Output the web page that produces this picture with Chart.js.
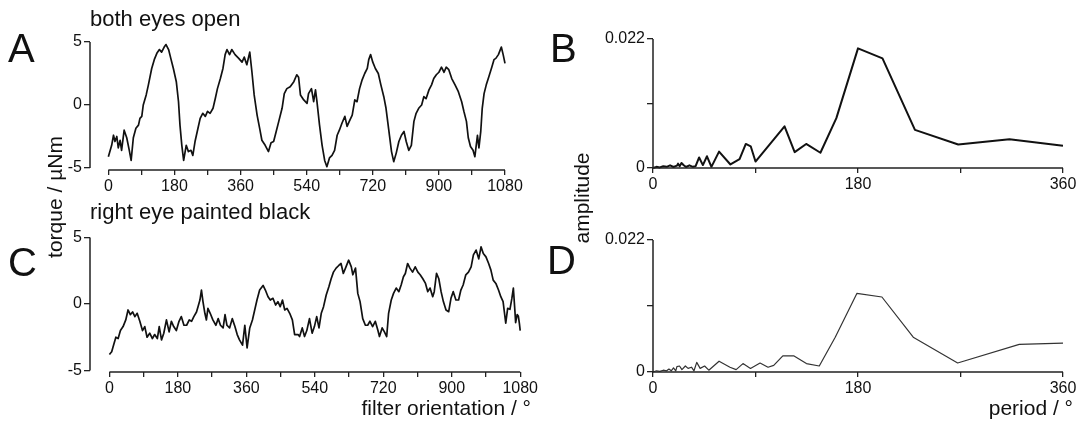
<!DOCTYPE html>
<html>
<head>
<meta charset="utf-8">
<script src="https://cdn.jsdelivr.net/npm/chart.js@4.4.1/dist/chart.umd.min.js"></script>
<style>
  body { margin: 0; background: #fff; width: 1081px; height: 424px; overflow: hidden; position: relative;
         font-family: "Liberation Sans", Arial, sans-serif; color: #111; }
  canvas { position: absolute; }
  .txt { position: absolute; white-space: nowrap; line-height: 1; }
  .big { font-size: 40px; }
  .lab { font-size: 21px; }
  .ttl { font-size: 22px; }
  .rot { transform: translate(-50%, -50%) rotate(-90deg); }
</style>
</head>
<body>
<canvas id="chartA" width="540" height="212" style="left:0;top:0"></canvas>
<canvas id="chartB" width="541" height="212" style="left:540px;top:0"></canvas>
<canvas id="chartC" width="540" height="212" style="left:0;top:212px"></canvas>
<canvas id="chartD" width="541" height="212" style="left:540px;top:212px"></canvas>

<div class="txt big" style="left:8px;top:28px">A</div>
<div class="txt big" style="left:550px;top:28px">B</div>
<div class="txt big" style="left:8px;top:242px">C</div>
<div class="txt big" style="left:547px;top:240px">D</div>
<div class="txt ttl" style="left:90px;top:8px">both eyes open</div>
<div class="txt ttl" style="left:90px;top:201px">right eye painted black</div>
<div class="txt lab rot" style="left:54px;top:197px">torque / µNm</div>
<div class="txt lab rot" style="left:581px;top:198px">amplitude</div>
<div class="txt lab" style="right:550px;top:397px">filter orientation / °</div>
<div class="txt lab" style="right:8px;top:397px">period / °</div>

<script>
// ticks
const torqueTicks = [-5, 0, 5];
const orientTicks = [0, 90, 180, 270, 360, 450, 540, 630, 720, 810, 900, 990, 1080];
const ampTicks = [0, 0.011, 0.022];
const periodTicks = [0, 90, 180, 270, 360];

// A: both eyes open, torque vs filter orientation
const aDeg = [0, 9, 14, 18, 23, 27, 32, 36, 43, 50, 57, 62, 68, 75, 82, 86, 91, 95, 103, 109,
  118, 125, 132, 139, 145, 152, 157, 164, 170, 177, 185, 191, 195, 200, 205, 212, 218, 225, 230, 236,
  244, 250, 257, 264, 270, 277, 285, 291, 297, 305, 312, 318, 323, 330, 336, 345, 355, 364, 370, 377,
  385, 391, 397, 405, 412, 418, 427, 436, 443, 450, 457, 464, 473, 479, 486, 495, 505, 513, 518, 523,
  532, 541, 545, 553, 559, 564, 568, 575, 582, 589, 595, 602, 609, 616, 623, 629, 636, 644, 650, 656,
  664, 671, 677, 684, 691, 698, 705, 709, 714, 720, 727, 735, 742, 750, 756, 764, 771, 777, 784, 791,
  798, 805, 811, 818, 825, 832, 838, 845, 853, 859, 865, 873, 880, 886, 893, 900, 907, 914, 920, 927,
  935, 944, 953, 962, 968, 975, 980, 986, 993, 998, 1005, 1009, 1014, 1018, 1023, 1029, 1036, 1044, 1050, 1055,
  1062, 1066, 1070, 1075, 1080];
const aTorque = [-4.1, -3.2, -2.4, -2.9, -2.5, -3.4, -2.8, -3.6, -2.0, -2.6, -3.6, -4.4, -2.6, -1.85, -1.6, -1.06, -0.9, 0, 0.8, 1.6,
  2.9, 3.6, 4.1, 4.4, 4.2, 4.6, 4.8, 4.4, 3.7, 2.9, 1.85, 0.26, -1.6, -3.2, -4.4, -3.2, -3.7, -3.6, -4.0, -2.9,
  -1.85, -1.06, -0.66, -0.9, -0.5, -0.66, -0.26, 0.5, 1.3, 2.1, 2.9, 4.0, 4.4, 4.0, 4.4, 4.0, 3.7, 3.4, 3.8, 3.2,
  4.2, 2.6, 0.8, -0.8, -1.85, -2.8, -3.2, -3.7, -3.0, -2.9, -2.1, -1.3, -0.26, 0.9, 1.3, 1.45, 1.85, 2.4, 2.2, 0.8,
  0.4, 0.13, 0.9, 1.3, 0.26, 1.2, 0.26, -1.6, -3.2, -4.4, -4.9, -4.2, -4.0, -3.6, -2.4, -2.0, -1.45, -0.9, -1.7, -1.3,
  -0.8, 0.4, 0.26, 1.3, 2.0, 2.5, 2.9, 3.6, 4.0, 3.4, 2.9, 2.5, 1.6, 0.66, -0.26, -2.1, -3.7, -4.5, -3.8, -2.9,
  -2.4, -2.1, -2.9, -3.6, -3.2, -1.3, -0.66, -0.26, 0, 0.66, 0.5, 1.2, 1.6, 2.1, 2.4, 2.6, 3.0, 2.6, 3.0, 2.8,
  2.1, 1.6, 1.06, 0.26, -0.5, -1.3, -2.6, -3.3, -3.6, -4.1, -2.4, -3.4, -2.1, -0.26, 0.9, 1.6, 2.25, 3.0, 3.6, 3.7,
  4.0, 4.3, 4.6, 4.0, 3.3];

// C: right eye painted black
const cDeg = [0, 6, 12, 17, 23, 29, 36, 43, 49, 55, 61, 67, 73, 80, 87, 93, 99, 106, 113, 119,
  126, 131, 137, 143, 150, 157, 163, 169, 176, 183, 189, 196, 203, 210, 216, 222, 229, 233, 238, 242,
  246, 251, 255, 259, 265, 272, 280, 286, 292, 299, 304, 309, 316, 323, 330, 336, 342, 350, 356, 362,
  369, 376, 382, 388, 395, 404, 410, 417, 423, 430, 437, 443, 449, 455, 461, 467, 474, 481, 487, 496,
  500, 507, 513, 519, 526, 533, 539, 545, 551, 557, 563, 570, 577, 583, 589, 596, 603, 609, 615, 622,
  629, 636, 640, 647, 653, 659, 666, 673, 679, 685, 692, 699, 706, 710, 717, 723, 729, 734, 741, 747,
  754, 761, 767, 773, 778, 784, 790, 797, 804, 811, 817, 824, 831, 837, 843, 850, 854, 860, 866, 872,
  878, 885, 892, 898, 904, 911, 918, 924, 930, 937, 944, 951, 957, 964, 971, 977, 983, 990, 997, 1003,
  1009, 1016, 1023, 1029, 1035, 1042, 1047, 1053, 1058, 1062, 1066, 1068, 1072, 1075, 1078, 1080];
const cTorque = [-3.8, -3.6, -3.0, -2.5, -2.6, -2.0, -1.7, -1.2, -0.45, -0.8, -0.6, -0.95, -0.7, -1.3, -2.0, -1.7, -2.5, -2.2, -2.6, -2.3,
  -2.6, -1.7, -2.7, -2.2, -1.2, -2.1, -1.3, -1.7, -2.0, -1.3, -0.95, -1.6, -1.6, -1.2, -1.3, -0.95, -0.6, -0.2, 0.3, 1.05,
  0.18, -0.7, -1.2, -0.33, -0.7, -1.2, -1.6, -1.1, -1.6, -1.8, -0.8, -1.6, -1.8, -1.1, -1.7, -2.3, -2.7, -3.1, -1.6, -3.3,
  -1.8, -1.2, -0.45, 0.3, 1.05, 1.4, 1.05, 0.55, 0.3, 0.43, -0.08, 0.18, -0.2, 0.3, -0.45, -0.33, -0.7, -1.2, -2.3, -2.3,
  -2.45, -1.8, -2.45, -2.0, -1.1, -2.2, -1.7, -0.95, -1.8, -0.7, -0.2, 0.68, 1.3, 1.9, 2.4, 2.7, 2.9, 3.05, 2.3, 2.8,
  3.3, 2.8, 2.2, 2.7, 0.8, 0.18, -1.1, -1.6, -1.6, -1.3, -1.7, -1.3, -2.0, -2.45, -1.8, -2.1, -2.45, -0.7, 0.3, 0.8,
  1.2, 0.93, 1.43, 2.05, 2.3, 3.05, 2.7, 2.4, 2.8, 2.4, 2.2, 1.9, 1.55, 0.93, 1.2, 0.55, 0.93, 2.3, 1.9, 0.93,
  0.18, -0.45, -0.58, 0.43, 0.93, 0.3, 0.3, 1.05, 1.43, 2.2, 2.4, 2.8, 3.7, 4.06, 3.4, 4.3, 3.8, 3.55, 3.05, 2.55,
  1.8, 1.55, 1.05, 0.55, 0.18, -1.45, -0.33, -0.4, 0.4, 1.2, -0.5, -1.4, -0.8, -0.9, -1.5, -2.0];

// B: amplitude spectrum, both eyes open
const bPeriod = [0, 3, 6, 9, 12, 15, 18, 21, 22, 23.4, 25, 27, 29, 32, 35, 37.4, 40.5, 43.8, 47.4, 51.3,
  58, 68, 76, 81.5, 85.8, 90, 115.5, 124.4, 134.5, 147, 161, 180, 201.5, 230, 268, 313, 360];
const bAmp = [0, 0.0002, 0.0001, 0.0003, 0.0002, 0.00046, 0.00017, 0.0004, 0.00074, 0.0003, 0.00086, 0.00046, 0.00017, 0.00046, 0.0002, 0.0003, 0.0018, 0.0005, 0.002, 0.0002,
  0.0028, 0.0006, 0.0015, 0.0041, 0.0037, 0.0011, 0.0071, 0.0027, 0.0041, 0.0026, 0.0085, 0.0204, 0.0187, 0.0065, 0.004, 0.0049, 0.0038];

// D: amplitude spectrum, right eye painted black
const dPeriod = [0, 3, 6, 9, 12, 14, 16, 18, 20, 21, 23.3, 25.4, 28.4, 30.8, 33.8, 36, 38.4, 41.4, 45.3, 49,
  58, 67.6, 73, 79, 85.6, 94, 101, 106, 114, 123.5, 134.7, 146, 160, 179, 201, 228.5, 267.5, 321.6, 360];
const dAmp = [0, 0.0002, 0.0001, 0.0003, 0.0002, 0.0005, 0.0002, 0.0007, 0.0002, 0.0009, 0.001, 0.0004, 0.001, 0.0006, 0.0008, 0.0002, 0.0016, 0.0006, 0.001, 0.0003,
  0.0018, 0.0008, 0.0004, 0.0014, 0.0006, 0.0015, 0.0008, 0.0011, 0.0027, 0.0027, 0.0014, 0.001, 0.0058, 0.0131, 0.0125, 0.0058, 0.0015, 0.0046, 0.0048];

const axisColor = '#222';
const tickFont = { family: '"Liberation Sans", Arial, sans-serif', size: 16 };

// axis lines drawn from first to last tick, like the separated axes of the original
const axisLines = {
  id: 'axisLines',
  afterDraw(chart) {
    const { ctx, chartArea } = chart;
    const x = chart.scales.x, y = chart.scales.y;
    const xt = x.ticks, yt = y.ticks;
    ctx.save();
    ctx.strokeStyle = axisColor;
    ctx.lineWidth = 1.5;
    ctx.beginPath();
    ctx.moveTo(chartArea.left, y.getPixelForValue(yt[0].value));
    ctx.lineTo(chartArea.left, y.getPixelForValue(yt[yt.length - 1].value));
    ctx.moveTo(x.getPixelForValue(xt[0].value), chartArea.bottom);
    ctx.lineTo(x.getPixelForValue(xt[xt.length - 1].value), chartArea.bottom);
    ctx.stroke();
    ctx.restore();
  }
};

function toPoints(xs, ys) {
  return xs.map((v, i) => ({ x: v, y: ys[i] }));
}

function makePanel(id, p) {
  return new Chart(document.getElementById(id), {
    type: 'line',
    data: {
      datasets: [{
        data: toPoints(p.xs, p.ys),
        borderColor: p.color,
        borderWidth: p.width,
        pointRadius: 0,
        tension: 0,
        borderJoinStyle: 'round',
        clip: false
      }]
    },
    options: {
      responsive: false,
      animation: false,
      devicePixelRatio: 1,
      layout: { padding: p.pad },
      plugins: { legend: { display: false }, tooltip: { enabled: false } },
      scales: {
        x: {
          type: 'linear',
          min: p.xMin, max: p.xMax,
          afterBuildTicks: s => { s.ticks = p.xTicks.map(v => ({ value: v })); },
          afterFit: s => { s.height = 30; },
          border: { display: false },
          grid: { drawOnChartArea: false, drawTicks: true, tickLength: 5, color: axisColor, lineWidth: 1.3 },
          ticks: {
            autoSkip: false, maxRotation: 0, padding: 2, color: '#111', font: tickFont,
            callback: v => (v % 180 === 0 ? String(v) : '')
          }
        },
        y: {
          type: 'linear',
          min: p.yMin, max: p.yMax,
          afterBuildTicks: s => { s.ticks = p.yTicks.map(v => ({ value: v })); },
          afterFit: s => { s.width = p.yWidth; },
          border: { display: false },
          grid: { drawOnChartArea: false, drawTicks: true, tickLength: 6, color: axisColor, lineWidth: 1.3 },
          ticks: {
            padding: 2, color: '#111', font: tickFont,
            callback: v => (p.yLabels.includes(v) ? String(v) : '')
          }
        }
      }
    },
    plugins: [axisLines]
  });
}

makePanel('chartA', {
  xs: aDeg, ys: aTorque, color: '#111', width: 1.7,
  xMin: -50, xMax: 1080, xTicks: orientTicks,
  yMin: -5.16, yMax: 5.16, yTicks: torqueTicks, yLabels: torqueTicks,
  yWidth: 90, pad: { top: 40, right: 35, bottom: 12, left: 0 }
});
makePanel('chartC', {
  xs: cDeg, ys: cTorque, color: '#111', width: 1.7,
  xMin: -51, xMax: 1080, xTicks: orientTicks,
  yMin: -5.12, yMax: 5.12, yTicks: torqueTicks, yLabels: torqueTicks,
  yWidth: 90, pad: { top: 24, right: 19, bottom: 22, left: 0 }
});
makePanel('chartB', {
  xs: bPeriod, ys: bAmp, color: '#111', width: 2,
  xMin: 0, xMax: 360, xTicks: periodTicks,
  yMin: 0, yMax: 0.022, yTicks: ampTicks, yLabels: [0, 0.022],
  yWidth: 113, pad: { top: 39, right: 18, bottom: 14, left: 0 }
});
makePanel('chartD', {
  xs: dPeriod, ys: dAmp, color: '#333', width: 1.2,
  xMin: 0, xMax: 360, xTicks: periodTicks,
  yMin: 0, yMax: 0.022, yTicks: ampTicks, yLabels: [0, 0.022],
  yWidth: 113, pad: { top: 28, right: 18, bottom: 22, left: 0 }
});
</script>
</body>
</html>
